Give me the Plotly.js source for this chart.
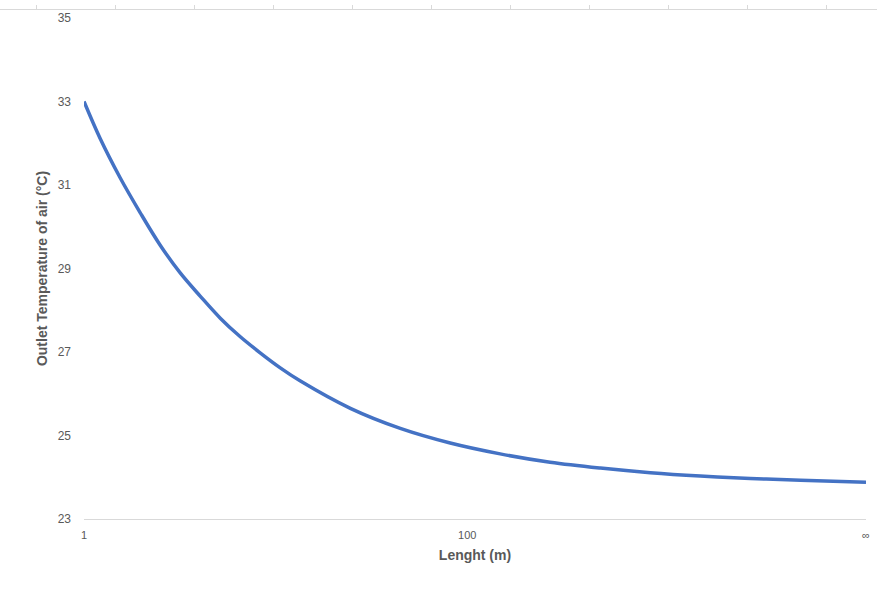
<!DOCTYPE html>
<html>
<head>
<meta charset="utf-8">
<script src="https://cdn.plot.ly/plotly-3.0.1.min.js"></script>
<style>html,body{margin:0;padding:0;background:#fff;}#chart{width:877px;height:597px;}</style>
</head>
<body>
<div id="chart"></div>
<script>
// Length positions (category position along the axis; last point is "∞")
const lengthPos = [1, 5.14, 10.3, 15.5, 20.6, 25.8, 31.0, 36.2, 41.3, 46.5, 51.7, 56.8, 69.8, 82.7, 95.6, 108.5, 121.4, 134.4, 147.3, 160.2, 173.1, 186.1, 203];
// Outlet temperature of air (°C)
const outletTemp = [33.0, 32.12, 31.18, 30.34, 29.57, 28.9, 28.34, 27.81, 27.37, 26.98, 26.62, 26.31, 25.65, 25.17, 24.82, 24.56, 24.36, 24.22, 24.11, 24.03, 23.97, 23.93, 23.88];
const xTickVals = [1, 100, 203];
const xTickText = ['1', '100', '∞'];
const yTickVals = [23, 25, 27, 29, 31, 33, 35];

const grey = '#595959';
const lineGrey = '#d9d9d9';
const fontFam = 'Liberation Sans, Arial, sans-serif';

const trace = {
  x: lengthPos,
  y: outletTemp,
  type: 'scatter',
  mode: 'lines',
  line: {color: '#4472C4', width: 3.5, shape: 'spline', smoothing: 1},
  hoverinfo: 'x+y',
  showlegend: false
};
// invisible trace hosting the decorative top axis
const topTrace = {x: [0, 877], y: [23, 23], xaxis: 'x2', yaxis: 'y', mode: 'markers', marker: {opacity: 0}, hoverinfo: 'skip', showlegend: false};

const layout = {
  width: 877, height: 597,
  margin: {l: 0, r: 0, t: 9, b: 78, pad: 0},
  paper_bgcolor: '#ffffff', plot_bgcolor: 'rgba(0,0,0,0)',
  font: {family: fontFam, color: grey},
  xaxis: {
    domain: [84/877, 866/877],
    range: [1, 203],
    tickvals: xTickVals, ticktext: xTickText,
    showgrid: false, zeroline: false,
    showline: true, linecolor: lineGrey, linewidth: 1,
    ticks: '', ticklabelstandoff: 6,
    tickfont: {size: 11, color: grey, family: fontFam},
    title: {text: '<b>Lenght (m)</b>', font: {size: 14, color: grey, family: fontFam}, standoff: 9}
  },
  xaxis2: {
    side: 'top', anchor: 'free', position: 1,
    domain: [0, 1], range: [0, 877],
    tick0: 36, dtick: 79, ticks: 'outside', ticklen: 4, tickcolor: lineGrey,
    showticklabels: false, showgrid: false, zeroline: false,
    showline: true, linecolor: lineGrey, linewidth: 1, fixedrange: true
  },
  yaxis: {
    domain: [0, 501/510],
    range: [23, 35],
    tickvals: yTickVals,
    showgrid: false, zeroline: false, showline: false,
    ticks: '', ticklabelstandoff: 12,
    tickfont: {size: 12, color: grey, family: fontFam},
    title: {text: '<b>Outlet Temperature of air (°C)</b>', font: {size: 14, color: grey, family: fontFam}, standoff: 6}
  }
};

Plotly.newPlot('chart', [trace, topTrace], layout, {displayModeBar: false, staticPlot: true});
</script>
</body>
</html>
